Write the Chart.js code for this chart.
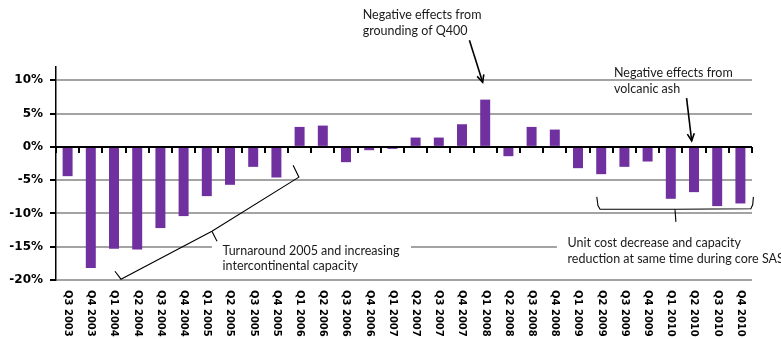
<!DOCTYPE html>
<html>
<head>
<meta charset="utf-8">
<script src="https://cdn.jsdelivr.net/npm/chart.js@4.4.1/dist/chart.umd.min.js"></script>
<style>
  html, body { margin: 0; padding: 0; background: #fff; }
  #wrap { width: 781px; height: 339px; position: relative; }
</style>
</head>
<body>
<div id="wrap"><canvas id="c"></canvas></div>
<script>
// Quarterly unit cost change, per cent
const quarters = [
  'Q3 2003', 'Q4 2003',
  'Q1 2004', 'Q2 2004', 'Q3 2004', 'Q4 2004',
  'Q1 2005', 'Q2 2005', 'Q3 2005', 'Q4 2005',
  'Q1 2006', 'Q2 2006', 'Q3 2006', 'Q4 2006',
  'Q1 2007', 'Q2 2007', 'Q3 2007', 'Q4 2007',
  'Q1 2008', 'Q2 2008', 'Q3 2008', 'Q4 2008',
  'Q1 2009', 'Q2 2009', 'Q3 2009', 'Q4 2009',
  'Q1 2010', 'Q2 2010', 'Q3 2010', 'Q4 2010'
];
const unitCostChange = [
  -4.4, -18.2,
  -15.3, -15.4, -12.2, -10.4,
  -7.4, -5.7, -3.0, -4.6,
  3.0, 3.2, -2.3, -0.5,
  -0.3, 1.4, 1.4, 3.4,
  7.1, -1.4, 3.0, 2.6,
  -3.2, -4.1, -3.0, -2.2,
  -7.8, -6.8, -8.9, -8.5
];
const yTickValues = [10, 5, 0, -5, -10, -15, -20];

// Callout texts
const noteQ400 = ['Negative effects from', 'grounding of Q400'];
const noteAsh = ['Negative effects from', 'volcanic ash'];
const noteTurnaround = ['Turnaround 2005 and increasing', 'intercontinental capacity'];
const noteCapacity = ['Unit cost decrease and capacity', 'reduction at same time during core SAS'];

const PURPLE = '#7030A0';
const GRID = '#a3a3a3';
const NOTE_FONT = '12.5px Lato, "Open Sans", sans-serif';

// helpers mapping (category index, value) to canvas pixels
function P(chart, i, v) {
  return [chart.scales.x.getPixelForValue(i), chart.scales.y.getPixelForValue(v)];
}

function drawLines(ctx, pts) {
  ctx.beginPath();
  ctx.moveTo(pts[0][0], pts[0][1]);
  for (let k = 1; k < pts.length; k++) ctx.lineTo(pts[k][0], pts[k][1]);
  ctx.stroke();
}

function drawArrow(ctx, from, to) {
  ctx.save();
  ctx.strokeStyle = '#000';
  ctx.lineWidth = 1.6;
  drawLines(ctx, [from, to]);
  const a = Math.atan2(to[1] - from[1], to[0] - from[0]);
  const L = 8, w = 0.45;
  drawLines(ctx, [
    [to[0] - L * Math.cos(a - w), to[1] - L * Math.sin(a - w)],
    to,
    [to[0] - L * Math.cos(a + w), to[1] - L * Math.sin(a + w)]
  ]);
  ctx.restore();
}

function drawNote(ctx, lines, x, y, lh) {
  ctx.save();
  ctx.font = NOTE_FONT;
  ctx.fillStyle = '#1a1a1a';
  ctx.textAlign = 'left';
  ctx.textBaseline = 'middle';
  lines.forEach((t, k) => ctx.fillText(t, x, y + k * lh));
  ctx.restore();
}

const overlay = {
  id: 'overlay',
  beforeDatasetsDraw(chart) {
    const ctx = chart.ctx;
    // white boxes behind the lower callouts
    ctx.save();
    ctx.fillStyle = '#fff';
    let a = P(chart, 6.22, -14.0), b = P(chart, 14.8, -19.1);
    ctx.fillRect(a[0], a[1], b[0] - a[0], b[1] - a[1]);
    a = P(chart, 21.09, -13.4); b = P(chart, 21.09, -18.2);
    ctx.fillRect(a[0], a[1], chart.width - a[0], b[1] - a[1]);
    ctx.restore();
  },
  afterDatasetsDraw(chart) {
    const ctx = chart.ctx;
    const x = chart.scales.x, y = chart.scales.y;
    const y0 = y.getPixelForValue(0);
    const area = chart.chartArea;
    ctx.save();
    // zero line
    ctx.strokeStyle = '#000';
    ctx.lineWidth = 2;
    drawLines(ctx, [[area.left, y0], [area.right, y0]]);
    // category tick marks on the zero line
    ctx.lineWidth = 2;
    for (let i = 0; i <= quarters.length; i++) {
      const px = Math.round(x.getPixelForValue(i - 0.5));
      drawLines(ctx, [[px, y0], [px, y0 + 6]]);
    }
    // rotated quarter labels
    ctx.font = 'bold 10px "DejaVu Sans", sans-serif';
    ctx.fillStyle = '#000';
    ctx.textAlign = 'left';
    ctx.textBaseline = 'middle';
    quarters.forEach((q, i) => {
      ctx.save();
      ctx.translate(x.getPixelForValue(i), area.bottom + 10);
      ctx.rotate(Math.PI / 2);
      ctx.fillText(q, 0, 0);
      ctx.restore();
    });
    ctx.restore();
  },
  afterDraw(chart) {
    const ctx = chart.ctx;
    // callout texts
    let p = P(chart, 12.72, 19.8);
    drawNote(ctx, noteQ400, p[0], p[1], 15.5);
    p = P(chart, 23.55, 11.07);
    drawNote(ctx, noteAsh, p[0], p[1], 16);
    p = P(chart, 6.68, -15.63);
    drawNote(ctx, noteTurnaround, p[0], p[1], 15.5);
    p = P(chart, 21.55, -14.47);
    drawNote(ctx, noteCapacity, p[0], p[1], 16);

    // arrows
    drawArrow(ctx, P(chart, 17.32, 16.03), P(chart, 17.89, 9.72));
    drawArrow(ctx, P(chart, 26.68, 7.32), P(chart, 26.90, 0.9));

    ctx.save();
    ctx.strokeStyle = '#000';
    ctx.lineWidth = 1.1;
    // slanted brace over the 2004-2005 bars
    drawLines(ctx, [P(chart, 2.04, -18.68), P(chart, 2.30, -19.88), P(chart, 6.22, -12.67), P(chart, 9.97, -4.55), P(chart, 9.72, -2.75)]);
    drawLines(ctx, [P(chart, 6.22, -12.67), P(chart, 6.44, -14.17)]);
    // horizontal brace under the 2009-2010 bars
    drawLines(ctx, [P(chart, 22.81, -7.51), P(chart, 22.86, -8.8), P(chart, 22.95, -9.36), P(chart, 26.18, -9.36), P(chart, 29.45, -9.3), P(chart, 29.53, -8.7), P(chart, 29.56, -7.51)]);
    drawLines(ctx, [P(chart, 26.18, -9.36), P(chart, 26.22, -11.27)]);
    ctx.restore();
  }
};

new Chart(document.getElementById('c'), {
  type: 'bar',
  data: {
    labels: quarters,
    datasets: [{
      data: unitCostChange,
      backgroundColor: PURPLE,
      borderWidth: 0,
      categoryPercentage: 1,
      barPercentage: 0.43
    }]
  },
  options: {
    responsive: true,
    maintainAspectRatio: false,
    animation: false,
    devicePixelRatio: 1,
    layout: { padding: { top: 67, right: 29, left: 0, bottom: 0 } },
    plugins: { legend: { display: false }, tooltip: { enabled: false } },
    scales: {
      x: {
        grid: { display: false },
        border: { display: false },
        ticks: { display: false },
        afterFit(s) { s.height = 59; }
      },
      y: {
        min: -20,
        max: 12,
        afterBuildTicks(s) { s.ticks = yTickValues.map(v => ({ value: v })); },
        afterFit(s) { s.width = 56; },
        border: { display: true, color: '#000', width: 1.5 },
        grid: {
          color: ctx => ctx.tick && ctx.tick.value === 0 ? '#000' : GRID,
          lineWidth: 2,
          tickColor: '#000',
          tickLength: 6
        },
        ticks: {
          padding: 7,
          color: '#000',
          font: { family: '"DejaVu Sans", sans-serif', size: 12, weight: 'bold' },
          callback: v => v + '%'
        }
      }
    }
  },
  plugins: [overlay]
});
</script>
</body>
</html>
